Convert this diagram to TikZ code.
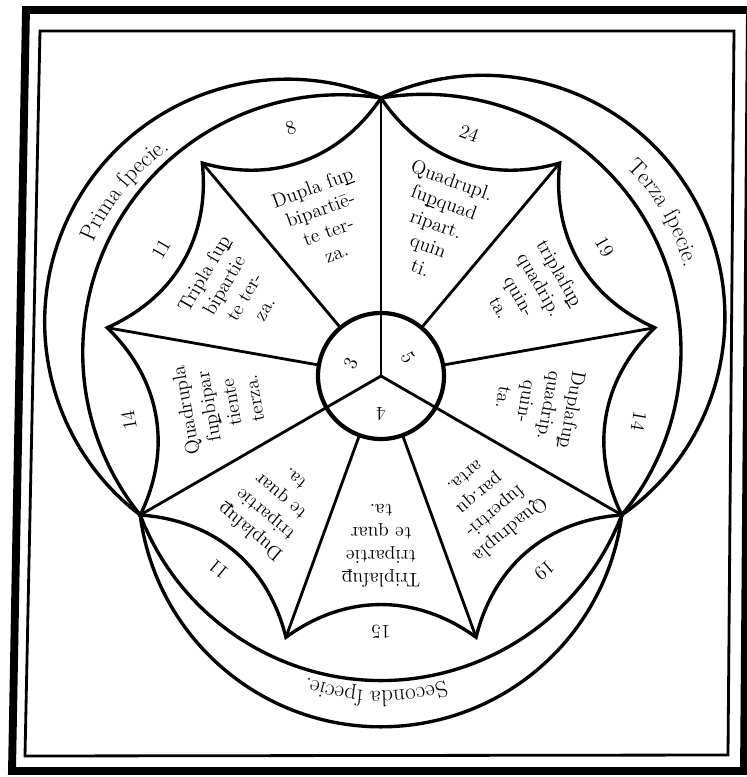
\documentclass[tikz,border=0pt]{standalone}
\usepackage{fontspec}
\usetikzlibrary{decorations.text}
\newcommand\pstroke{\ooalign{p\cr\hidewidth\rule[-0.14em]{0.5em}{0.055em}\hidewidth\cr}}
\newcommand\secfont{\fontsize{14}{16.5}\selectfont\addfontfeatures{FakeBold=1}}
\newcommand\bandfont{\fontsize{16.5}{19}\selectfont\addfontfeatures{FakeBold=1}}
\newcommand\numfont{\fontsize{14}{14}\selectfont\addfontfeatures{FakeBold=1}}

\begin{document}
\begin{tikzpicture}[x=0.025cm, y=0.025cm,
	arcline/.style={line width=2.4pt},
	rayline/.style={line width=2pt},
	sectortext/.style={align=center, font=\secfont, inner sep=0pt},
	lensnum/.style={font=\numfont, inner sep=0pt},
	hubnum/.style={font=\numfont, inner sep=0pt}]
	\useasboundingbox (-381,-401) rectangle (366,376);
	% Frame:
	\draw[line width=5.6pt] (-355,366) -- (-369,-395) -- (363,-395) -- (369,366) -- cycle;
	\draw[line width=2pt] (-341,345) -- (-356,-380) -- (347,-379) -- (353,345) -- cycle;
	% Points of the star:
	\coordinate (v0) at (90:278);
	\coordinate (v1) at (130:278);
	\coordinate (v2) at (170:278);
	\coordinate (v3) at (210:278);
	\coordinate (v4) at (250:278);
	\coordinate (v5) at (290:278);
	\coordinate (v6) at (330:278);
	\coordinate (v7) at (10:278);
	\coordinate (v8) at (50:278);
	% Bands of the three species:
	\draw[arcline] ([shift={(150:108)}]67.3:242.8) arc[start angle=67.3, end angle=232.7, radius=242.8];
	\draw[arcline] ([shift={(150:46.6)}]81:257.9) arc[start angle=81, end angle=219, radius=257.9];
	\draw[arcline] ([shift={(270:108)}]187.3:242.8) arc[start angle=187.3, end angle=352.7, radius=242.8];
	\draw[arcline] ([shift={(270:46.6)}]201:257.9) arc[start angle=201, end angle=339, radius=257.9];
	\draw[arcline] ([shift={(30:118)}]-55:241.7) arc[start angle=-55, end angle=115, radius=241.7];
	\draw[arcline] ([shift={(30:50)}]-40.3:256.7) arc[start angle=-40.3, end angle=100.3, radius=256.7];
	% Hollow sides of the star:
	\draw[arcline] (v0) to[bend left=36] (v1) to[bend left=36] (v2) to[bend left=36] (v3)
		to[bend left=36] (v4) to[bend left=36] (v5) to[bend left=36] (v6)
		to[bend left=36] (v7) to[bend left=36] (v8) to[bend left=36] (v0);
	% Rays and hub:
	\draw[rayline] (v0) -- (0,0);
	\draw[rayline] (v3) -- (0,0);
	\draw[rayline] (v6) -- (0,0);
	\draw[rayline] (v1) -- (130:63);
	\draw[rayline] (v2) -- (170:63);
	\draw[rayline] (v4) -- (250:63);
	\draw[rayline] (v5) -- (290:63);
	\draw[rayline] (v7) -- (10:63);
	\draw[rayline] (v8) -- (50:63);
	\draw[line width=3pt, fill=white] (0,0) circle[radius=63];
	\draw[rayline] (0,0) -- (90:63);
	\draw[rayline] (0,0) -- (210:63);
	\draw[rayline] (0,0) -- (330:63);
	\node[hubnum, rotate=65] (n3) at (157:33) {3};
	\node[hubnum, rotate=-60] (n5) at (35:33) {5};
	\node[hubnum, rotate=180] (n4) at (270:38) {4};
	% Sector texts:
	\node[sectortext, rotate=20] (s1) at (110:166) {Dupla ſu\pstroke\\bipartiē-\\te ter-\\za.};
	\node[sectortext, rotate=60] (s2) at (150:170) {Tripla ſu\pstroke\\bipartie\\te ter-\\za.};
	\node[sectortext, rotate=100] (s3) at (190:164) {Quadrupla\\ſu\pstroke bipar\\tiente\\terza.};
	\node[sectortext, rotate=140] (s4) at (230:170) {Duplaſu\pstroke\\tripartie\\te quar\\ta.};
	\node[sectortext, rotate=180] (s5) at (270:170) {Triplaſu\pstroke\\tripartie\\te quar\\ta.};
	\node[sectortext, rotate=220] (s6) at (310:167) {Quadrupla\\ſupertri-\\par.qu\\arta.};
	\node[sectortext, rotate=260] (s7) at (350:160) {Duplaſu\pstroke\\quadrip.\\quin-\\ta.};
	\node[sectortext, rotate=300] (s8) at (30:172) {triplaſu\pstroke\\quadrip.\\quin-\\ta.};
	\node[sectortext, rotate=340] (s9) at (70:162) {Quadrupl.\\ſu\pstroke quad\\ripart.\\quin\\ti.};
	% Numbers in the lenses:
	\node[lensnum, rotate=20] (l1) at (110:264) {8};
	\node[lensnum, rotate=60] (l2) at (150:254) {11};
	\node[lensnum, rotate=100] (l3) at (190:256) {14};
	\node[lensnum, rotate=140] (l4) at (230:253) {11};
	\node[lensnum, rotate=180] (l5) at (270:256) {15};
	\node[lensnum, rotate=220] (l6) at (310:254) {19};
	\node[lensnum, rotate=260] (l7) at (350:262) {14};
	\node[lensnum, rotate=300] (l8) at (30:258) {19};
	\node[lensnum, rotate=340] (l9) at (70:258) {24};
	% Names of the species:
	\path[decorate, decoration={text along path, text align=center, text={|\bandfont|Prima ſpecie.}}]
		([shift={(150:108)}]168:209) arc[start angle=168, end angle=114, radius=209];
	\path[decorate, decoration={text along path, text align=center, text={|\bandfont|Terza ſpecie.}}]
		([shift={(30:118)}]58:207) arc[start angle=58, end angle=2, radius=207];
	\path[decorate, decoration={text along path, text align=center, text={|\bandfont|Seconda ſpecie.}}]
		([shift={(270:108)}]298:207) arc[start angle=298, end angle=239, radius=207];
\end{tikzpicture}
\end{document}
